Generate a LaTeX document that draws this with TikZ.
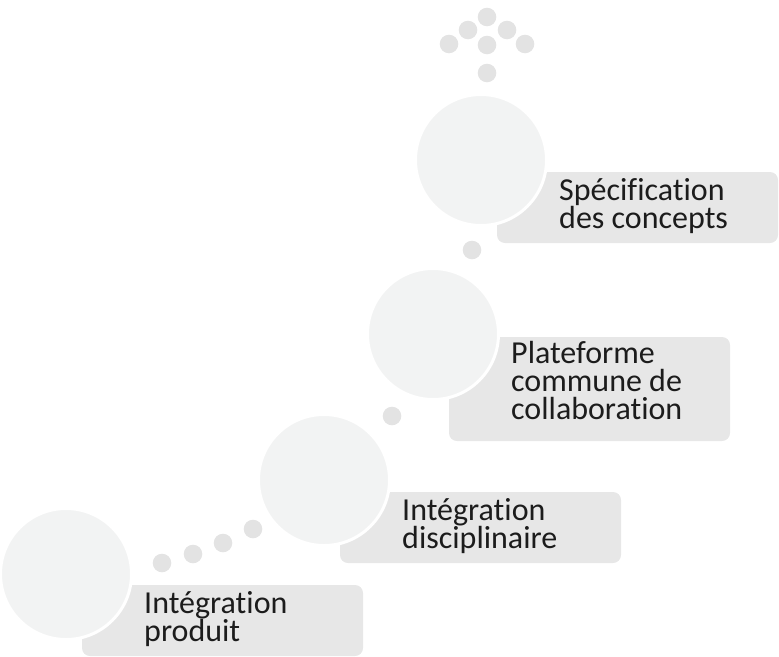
\documentclass[tikz,border=0pt]{standalone}
\usepackage{fontspec}
\setmainfont{Carlito}[Ligatures=NoCommon]
\usepackage{xcolor}
\usetikzlibrary{positioning}
\definecolor{stepDisc}{RGB}{242,243,243}
\definecolor{stepBox}{RGB}{231,231,231}
\definecolor{stepDot}{RGB}{227,227,227}
\definecolor{stepInk}{RGB}{28,28,28}
\tikzset{
  stepbox/.style={rectangle,fill=stepBox,rounded corners=8pt,minimum width=281pt,inner sep=0pt,outer sep=0pt,anchor=north west},
  stepdisc/.style={circle,fill=stepDisc,draw=white,line width=3pt,minimum size=131pt,inner sep=0pt,outer sep=0pt},
  steplabel/.style={font=\fontsize{32}{28}\selectfont,text=stepInk,align=left,inner sep=0pt,anchor=base west},
  stepdot/.style={fill=stepDot},
}
\begin{document}
\begin{tikzpicture}[x=1pt,y=-1pt]
  \useasboundingbox (0,0) rectangle (779,656);

  % Text panels behind the discs.
  \node[stepbox,minimum height=71pt]  (box1) at (82,585) {};
  \node[stepbox,minimum height=71pt]  (box2) at (340,492) {};
  \node[stepbox,minimum height=104pt] (box3) at (449,337) {};
  \node[stepbox,minimum height=71pt]  (box4) at (497,172) {};

  % Discs with a white rim.
  \node[stepdisc] (disc1) at (66,574) {};
  \node[stepdisc] (disc2) at (324,480) {};
  \node[stepdisc] (disc3) at (433,334) {};
  \node[stepdisc] (disc4) at (481,160) {};

  % Labels (base anchor sits on the last line).
  \node[steplabel] (lab1) at ([xshift=62pt,yshift=-56pt]box1.north west) {Intégration\\produit};
  \node[steplabel] (lab2) at ([xshift=62pt,yshift=-56pt]box2.north west) {Intégration\\disciplinaire};
  \node[steplabel] (lab3) at ([xshift=62pt,yshift=-82pt]box3.north west) {Plateforme\\commune de\\collaboration};
  \node[steplabel] (lab4) at ([xshift=62pt,yshift=-56pt]box4.north west) {Spécification\\des concepts};

  % Dotted trail between the steps and the arrow head on top.
  \foreach \x/\y in {162/563,193/554,223/543,253/529,392/416,472/250,
                     487/73,449/44,487/45,525/44,468/30,507/30,487/17}
    \fill[stepdot] (\x,\y) circle (9.3pt);
\end{tikzpicture}
\end{document}
